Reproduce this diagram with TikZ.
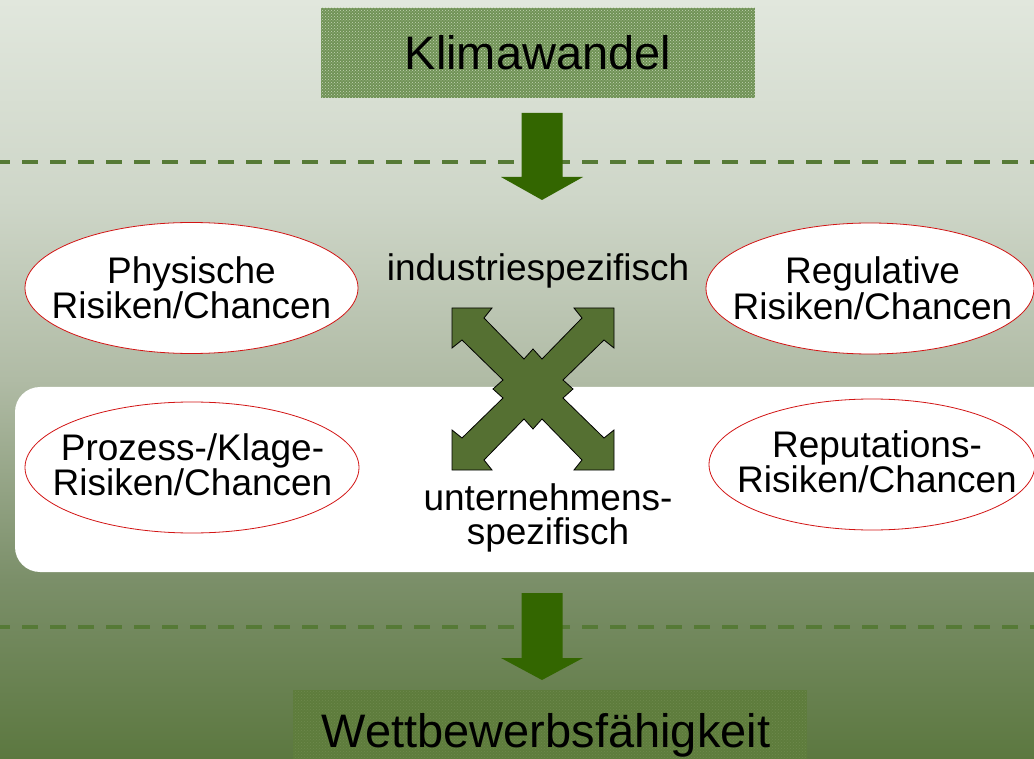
\documentclass[tikz,border=0pt]{standalone}
\usepackage{fontspec}
\setmainfont{Liberation Sans}
\usetikzlibrary{shapes.geometric,patterns}
\definecolor{bgA}{RGB}{225,231,221}
\definecolor{bgB}{RGB}{206,214,200}
\definecolor{bgC}{RGB}{176,187,165}
\definecolor{bgD}{RGB}{123,143,105}
\definecolor{bgE}{RGB}{92,120,64}
\definecolor{dashgreen}{RGB}{86,122,54}
\definecolor{arrgreen}{RGB}{51,102,0}
\definecolor{olive}{RGB}{85,112,50}
\definecolor{klimabase}{RGB}{112,146,86}
\definecolor{klimadots}{RGB}{196,212,180}
\definecolor{wettbase}{RGB}{94,124,60}
\definecolor{wettdots}{RGB}{110,138,78}
\definecolor{ellred}{RGB}{210,20,20}
\pgfdeclareverticalshading{bgshade}{100bp}{color(0bp)=(bgE); color(25bp)=(bgE); color(36.8bp)=(bgD); color(50bp)=(bgC); color(61.8bp)=(bgB); color(75bp)=(bgA); color(100bp)=(bgA)}
\tikzset{
  sepline/.style={draw=dashgreen, line width=4pt, dash pattern=on 16pt off 12pt},
  riskell/.style={ellipse, draw=ellred, line width=0.8pt, fill=white, inner sep=0pt},
  risktext/.style={inner sep=0pt, align=center, font=\fontsize{37}{33}\selectfont},
  headbox/.style={inner sep=0pt, font=\fontsize{47}{50}\selectfont},
  downarr/.style={fill=arrgreen},
  crossarr/.style={fill=olive, draw=black, line width=0.8pt, line join=miter},
}
\begin{document}
\begin{tikzpicture}[x=1pt,y=-1pt]
\useasboundingbox (0,0) rectangle (1034,759);
\clip (0,0) rectangle (1034,759);
\shade[shading=bgshade] (0,0) rectangle (1034,759);
% white band
\fill[white, rounded corners=25pt] (15,387) rectangle (1070,572);
% dashed separators
\coordinate (s1l) at (-6,162); \coordinate (s1r) at (1040,162);
\coordinate (s2l) at (-6,627); \coordinate (s2r) at (1040,627);
\draw[sepline] (s1l) -- (s1r);
\draw[sepline] (s2l) -- (s2r);
% head boxes
\node[headbox, fill=klimabase, minimum width=434pt, minimum height=90pt,
      postaction={pattern=crosshatch dots, pattern color=klimadots}] (klima) at (538,53) {};
\node[headbox] (klimat) at (klima.center) {Klimawandel};
\node[headbox, fill=wettbase, minimum width=514pt, minimum height=90pt,
      postaction={pattern=crosshatch dots, pattern color=wettdots}] (wett) at (550,735) {};
\node[headbox, anchor=base] (wettt) at (546,747) {Wettbewerbsfähigkeit};
% down arrows
\coordinate (a1) at (542,113);
\coordinate (a2) at (542,593);
\fill[downarr, shift={(a1)}] (-20.5,0) -- (20.5,0) -- (20.5,64) -- (41,64) -- (0,87) -- (-41,64) -- (-20.5,64) -- cycle;
\fill[downarr, shift={(a2)}] (-20.5,0) -- (20.5,0) -- (20.5,65) -- (41,65) -- (0,87) -- (-41,65) -- (-20.5,65) -- cycle;
% ellipses
\node[riskell, minimum width=333pt, minimum height=131pt] (phys) at (191.5,288) {};
\node[risktext] (physt) at (phys.center) {Physische\\Risiken/Chancen};
\node[riskell, minimum width=328pt, minimum height=131pt] (regu) at (870,288.5) {};
\node[risktext] (regut) at (872.5,288.5) {Regulative\\Risiken/Chancen};
\node[riskell, minimum width=334pt, minimum height=131pt] (proz) at (192,467.5) {};
\node[risktext] (prozt) at (192.5,465) {Prozess-/Klage-\\Risiken/Chancen};
\node[riskell, minimum width=326pt, minimum height=131pt] (repu) at (872,464.5) {};
\node[risktext] (reput) at (877,462) {Reputations-\\Risiken/Chancen};
% middle labels
\node[risktext, anchor=base] (ind) at (538,281) {industriespezifisch};
\node[risktext, font=\fontsize{37}{34}\selectfont] (unt) at (548,518) {unternehmens-\\spezifisch};
% cross arrow
\coordinate (cx) at (533,389);
\draw[crossarr, shift={(cx)}]
  (-81,-81) -- (-41,-81) -- (-49,-71) -- (-9,-30) -- (0,-40) -- (9,-30) -- (49,-71) -- (41,-81)
  -- (81,-81) -- (81,-41) -- (71,-49) -- (30,-9) -- (40,0) -- (30,9) -- (71,49) -- (81,41)
  -- (81,81) -- (41,81) -- (49,71) -- (9,30) -- (0,40) -- (-9,30) -- (-49,71) -- (-41,81)
  -- (-81,81) -- (-81,41) -- (-71,49) -- (-30,9) -- (-40,0) -- (-30,-9) -- (-71,-49) -- (-81,-41)
  -- cycle;
\end{tikzpicture}
\end{document}
